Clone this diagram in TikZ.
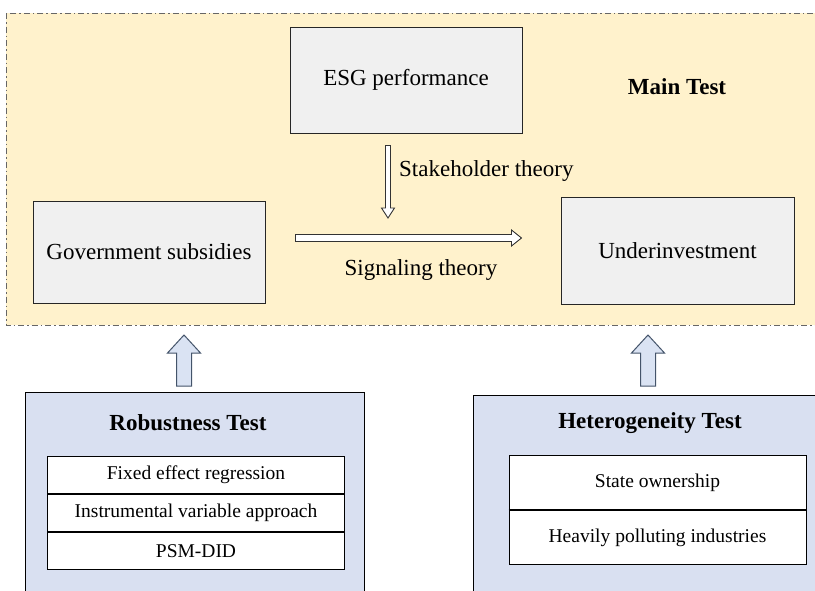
\documentclass[tikz,border=0pt]{standalone}
\usepackage{fontspec}
\setmainfont{Liberation Serif}
\usetikzlibrary{calc}

\definecolor{mainfill}{HTML}{FFF2CC}
\definecolor{boxgrey}{HTML}{F0F0F0}
\definecolor{testblue}{HTML}{D9E0F1}
\definecolor{arrowblue}{HTML}{DAE3F3}
\definecolor{arrowline}{HTML}{44546A}

% hollow block arrow: style, from, to, half shaft, half head, head length
\newcommand{\blockarrow}[6]{%
  \coordinate (hb) at ($(#3)!#6!(#2)$);
  \draw[#1] ($(#2)!#4!90:(#3)$) -- ($(hb)!#4!90:(#3)$) -- ($(hb)!#5!90:(#3)$)
    -- (#3) -- ($(hb)!#5!-90:(#3)$) -- ($(hb)!#4!-90:(#3)$)
    -- ($(#2)!#4!-90:(#3)$) -- cycle;
}

\begin{document}
\begin{tikzpicture}[x=1pt,y=-1pt,
  box/.style={draw=black!85, fill=boxgrey, line width=1pt, inner sep=0pt,
    font=\fontsize{23}{27}\selectfont},
  label/.style={font=\fontsize{23}{27}\selectfont, inner sep=0pt},
  title/.style={font=\fontsize{23}{27}\selectfont\bfseries, inner sep=0pt},
  testbox/.style={draw=black, fill=testblue, line width=1pt, anchor=north west},
  rowbox/.style={draw=black, fill=white, line width=1pt, anchor=north,
    minimum width=297pt, inner sep=0pt, font=\fontsize{19.5}{23}\selectfont},
  thinarr/.style={draw=black!80, fill=white, line width=0.9pt},
  uparr/.style={draw=arrowline, fill=arrowblue, line width=1pt}]

  \useasboundingbox (0,0) rectangle (815,590);

  % main test frame
  \draw[draw=black!60, fill=mainfill, line width=0.9pt,
    dash pattern=on 6pt off 3pt on 1.5pt off 3pt] (6,13) rectangle (840,325);

  \node[box, minimum width=232pt, minimum height=106pt] (esg) at (406,80) {ESG performance};
  \node[box, minimum width=232pt, minimum height=102pt] (gov) at (149,252) {Government subsidies};
  \node[box, minimum width=233pt, minimum height=107pt] (under) at (677.5,250.5) {Underinvestment};
  \node[title] (maintitle) at (677,87) {Main Test};

  % theories
  \coordinate (st1) at ($(esg.south)+(-18,12)$);
  \coordinate (st2) at (388,218);
  \blockarrow{thinarr}{st1}{st2}{2.5pt}{6.5pt}{10pt}
  \node[label, anchor=west] (stake) at (399,171) {Stakeholder theory};

  \coordinate (sg1) at ($(gov.east)+(30,-14)$);
  \coordinate (sg2) at ($(under.west)+(-39,-12.5)$);
  \blockarrow{thinarr}{sg1}{sg2}{3.5pt}{8pt}{10pt}
  \node[label] (signal) at (421,270) {Signaling theory};

  % robustness test
  \node[testbox, minimum width=339pt, minimum height=230pt] (robust) at (25,392) {};
  \node[title] (robusttitle) at (188,423) {Robustness Test};
  \node[rowbox, minimum height=37pt] (fixed) at (196,456) {Fixed effect regression};
  \node[rowbox, minimum height=37pt] (instr) at (fixed.south) {Instrumental variable approach};
  \node[rowbox, minimum height=37pt] (psm) at (instr.south) {PSM-DID};

  % heterogeneity test
  \node[testbox, minimum width=360pt, minimum height=230pt] (hetero) at (473,395) {};
  \node[title] (heterotitle) at (650,423) {Heterogeneity Test};
  \node[rowbox, minimum height=54pt] (state) at (657.5,455) {State ownership};
  \node[rowbox, minimum height=54pt] (polluting) at (state.south) {Heavily polluting industries};
  \draw[line width=2.2pt] (state.south west) -- (state.south east);

  % up arrows
  \coordinate (ra1) at (184,386);
  \coordinate (ra2) at (184,335);
  \blockarrow{uparr}{ra1}{ra2}{7.5pt}{16.5pt}{18pt}

  \coordinate (ha1) at (648,386);
  \coordinate (ha2) at (648,335);
  \blockarrow{uparr}{ha1}{ha2}{7.5pt}{16.5pt}{18pt}

\end{tikzpicture}
\end{document}
